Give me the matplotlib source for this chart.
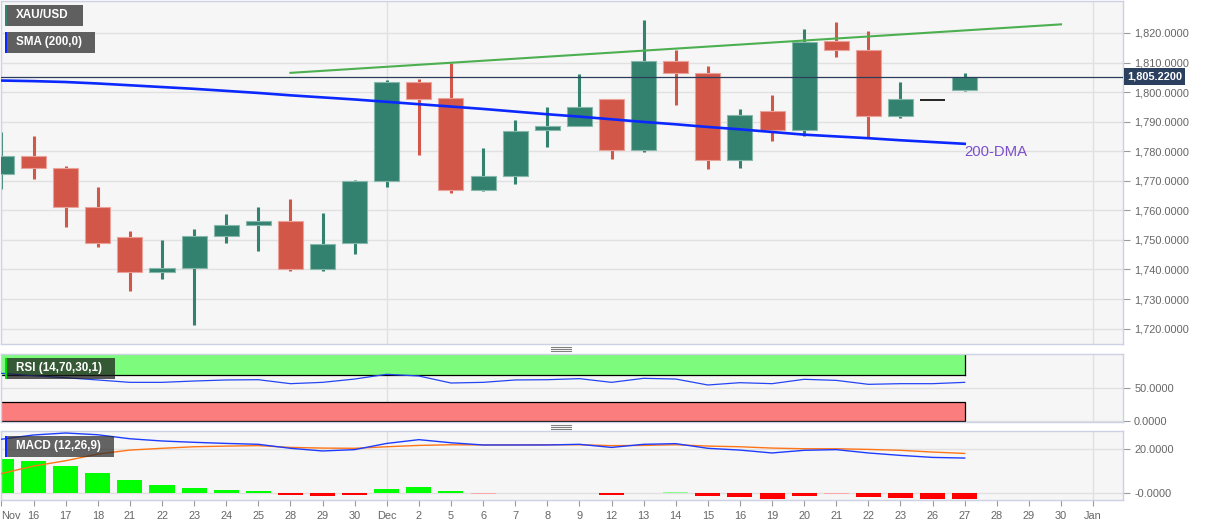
import matplotlib
matplotlib.use("Agg")
import matplotlib.pyplot as plt
from matplotlib.patches import Rectangle
from matplotlib.lines import Line2D
from matplotlib.transforms import blended_transform_factory

plt.rcParams["font.family"] = ["Liberation Sans", "DejaVu Sans"]

# ─── data ────────────────────────────────────────────────────────────────────
dates = ["Nov", "16", "17", "18", "21", "22", "23", "24", "25", "28", "29", "30",
         "Dec", "2", "5", "6", "7", "8", "9", "12", "13", "14", "15", "16", "19",
         "20", "21", "22", "23", "26", "27", "28", "29", "30", "Jan"]

opens = [1772.3, 1778.5, 1774.2, 1761.1, 1751.0, 1739.2, 1740.4, 1751.3, 1755.2, 1756.3,
         1740.1, 1748.9, 1770.0, 1803.3, 1797.9, 1766.9, 1771.7, 1787.1, 1788.6, 1797.5,
         1780.4, 1810.4, 1806.6, 1777.1, 1793.5, 1787.2, 1817.4, 1814.3, 1792.0, 1797.3,
         1800.7]
highs = [1786.5, 1785.2, 1775.0, 1767.8, 1752.9, 1749.9, 1753.6, 1758.7, 1761.1, 1763.8,
         1759.0, 1770.3, 1804.0, 1804.3, 1809.8, 1781.0, 1790.6, 1794.9, 1806.1, 1797.7,
         1824.3, 1814.3, 1808.8, 1794.3, 1798.9, 1821.2, 1823.6, 1820.7, 1803.3, 1797.3,
         1806.5]
lows = [1767.2, 1770.5, 1754.5, 1747.5, 1732.6, 1736.9, 1721.2, 1749.1, 1746.2, 1739.6,
        1739.6, 1745.2, 1767.8, 1778.6, 1765.8, 1766.5, 1768.8, 1781.3, 1788.4, 1777.5,
        1779.9, 1795.5, 1773.9, 1774.2, 1783.6, 1785.0, 1811.8, 1784.9, 1791.2, 1797.3,
        1800.2]
closes = [1778.5, 1774.4, 1761.2, 1748.9, 1739.3, 1740.4, 1751.2, 1755.1, 1756.3, 1740.1,
          1748.7, 1770.0, 1803.3, 1797.6, 1766.9, 1771.6, 1787.0, 1788.6, 1795.0, 1780.4,
          1810.4, 1806.6, 1777.0, 1792.2, 1787.2, 1817.1, 1814.3, 1792.0, 1797.7, 1797.3,
          1805.22]

sma200 = [1803.9, 1803.7, 1803.4, 1802.9, 1802.3, 1801.7, 1801.1, 1800.4, 1799.7, 1798.9,
          1798.2, 1797.5, 1796.7, 1795.9, 1795.1, 1794.3, 1793.4, 1792.5, 1791.7, 1790.8,
          1789.9, 1789.1, 1788.2, 1787.4, 1786.5, 1785.6, 1785.0, 1784.4, 1783.7, 1783.1,
          1782.5]

trend_x = [9, 33]
trend_y = [1806.5, 1822.9]
last_price = 1805.22

rsi = [72.7, 69.0, 66.0, 62.6, 59.0, 59.0, 61.0, 62.6, 63.0, 57.0, 59.0, 64.0, 71.2, 68.6,
       58.0, 59.0, 62.6, 63.0, 64.6, 59.0, 65.1, 64.0, 55.0, 58.5, 57.0, 63.6, 62.0, 56.0,
       57.0, 57.0, 59.0]

macd = [24.4, 26.3, 27.2, 26.4, 24.6, 23.6, 23.0, 22.5, 22.1, 20.3, 19.1, 19.7, 22.5, 24.2,
        22.8, 21.8, 21.8, 21.8, 22.1, 20.7, 22.1, 22.4, 20.3, 19.5, 18.2, 19.4, 19.7, 18.2,
        17.1, 16.2, 15.9]
signal = [8.9, 12.3, 14.7, 17.7, 19.5, 20.3, 21.0, 21.3, 21.5, 20.7, 20.4, 20.3, 21.0, 21.6,
          21.9, 21.8, 21.8, 21.9, 21.9, 21.5, 21.6, 21.9, 21.3, 21.0, 20.4, 20.1, 20.1, 19.8,
          19.4, 18.6, 18.0]
hist = [15.5, 14.4, 12.2, 9.2, 6.0, 3.6, 2.5, 1.6, 1.0, -0.8, -1.4, -0.6, 1.8, 2.8, 1.0,
        -0.15, 0.15, 0.15, 0.3, -0.6, 0.35, 0.45, -1.4, -1.8, -2.4, -1.1, -0.45, -1.6, -2.1,
        -2.4, -2.4]

price_ticks = [1720, 1730, 1740, 1750, 1760, 1770, 1780, 1790, 1800, 1810, 1820]
rsi_ticks = [0, 50]
rsi_ticklabels = ["0.0000", "50.0000"]
macd_ticks = [0, 20]
macd_ticklabels = ["-0.0000", "20.0000"]

# ─── style ───────────────────────────────────────────────────────────────────
UP = "#338270"
DOWN = "#d35748"
UP_EDGE = "#86b8ab"
DOWN_EDGE = "#e9a39a"
BG = "#f6f6f6"
SPINE = "#ccd1e3"
GRID = "#e1e1e1"
TICK = "#666666"

W, H = 1207, 526


def fx(x):
    return x / W


def fy(y):
    return 1 - y / H


fig = plt.figure(figsize=(W / 100, H / 100), dpi=100, facecolor="white")

left, right = 0.5, 1123
ax_main = fig.add_axes([fx(left), fy(344), (right - left) / W, (344 - 1) / H])
ax_rsi = fig.add_axes([fx(left), fy(422), (right - left) / W, (422 - 354) / H])
ax_macd = fig.add_axes([fx(left), fy(500), (right - left) / W, (500 - 431) / H])

xs = list(range(len(dates)))
n = len(closes)
idx = list(range(n))

for ax in (ax_main, ax_rsi, ax_macd):
    ax.set_facecolor(BG)
    ax.set_xlim(-0.03, 34.93)
    for sp in ax.spines.values():
        sp.set_color(SPINE)
        sp.set_linewidth(1.0)
    ax.yaxis.tick_right()
    ax.tick_params(axis="y", length=5, width=0.8, color="#9a9a9a",
                   labelcolor=TICK, labelsize=7.9, pad=3)
    ax.set_xticks(xs)
    ax.tick_params(axis="x", length=0, labelbottom=False)
    ax.grid(axis="y", color=GRID, linewidth=1.0, zorder=0)
    ax.set_axisbelow(True)
    for v in (12, 34):
        ax.axvline(v, color=GRID, linewidth=1.0, zorder=0.5)

# ─── main price panel ───────────────────────────────────────────────────────
ax_main.set_ylim(1714.8, 1830.8)
ax_main.set_yticks(price_ticks)
ax_main.set_yticklabels([f"{v:,.4f}" for v in price_ticks])

body_w = 0.78
for i in idx:
    o, h, l, c = opens[i], highs[i], lows[i], closes[i]
    if h == l:
        ax_main.hlines(c, i - body_w / 2, i + body_w / 2, color="black",
                       linewidth=1.2, zorder=3)
        continue
    col = UP if c >= o else DOWN
    edge = UP_EDGE if c >= o else DOWN_EDGE
    ax_main.vlines(i, l, h, color=col, linewidth=2.2, zorder=2)
    ax_main.bar(i, abs(c - o), bottom=min(o, c), width=body_w, color=col,
                edgecolor=edge, linewidth=0.8, zorder=3)

ax_main.plot(idx, sma200, color="#0a28ff", linewidth=1.9, zorder=4)
ax_main.plot(trend_x, trend_y, color="#4caf50", linewidth=1.5, zorder=4)
ax_main.axhline(last_price, color="#2c3d5c", linewidth=0.9, zorder=5)
ax_main.text(30, 1779.8, "200-DMA", color="#7b4fcc", fontsize=10.7,
             ha="left", va="center", zorder=6)

trans = blended_transform_factory(ax_main.transAxes, ax_main.transData)
ax_main.text(1.0035, last_price, f"{last_price:,.4f}", transform=trans,
             color="white", fontsize=7.9, fontweight="bold", ha="left", va="center",
             bbox=dict(boxstyle="square,pad=0.3", fc="#2b3f5f", ec="none"),
             zorder=7, clip_on=False)

# ─── RSI panel ──────────────────────────────────────────────────────────────
ax_rsi.set_ylim(-1.0, 101.9)
ax_rsi.set_yticks(rsi_ticks)
ax_rsi.set_yticklabels(rsi_ticklabels)
ax_rsi.add_patch(Rectangle((-1, 70), 31, 30, facecolor="#7cfb7c",
                           edgecolor="none", zorder=1))
ax_rsi.plot([-1, 30], [70, 70], color="black", linewidth=0.9, zorder=2)
ax_rsi.plot([30, 30], [70, 100], color="black", linewidth=0.9, zorder=2)
ax_rsi.add_patch(Rectangle((-1, 0), 31, 30, facecolor="#fb7d7d",
                           edgecolor="black", linewidth=0.9, zorder=1))
ax_rsi.plot(idx, rsi, color="#2545f5", linewidth=0.9, zorder=3)

# ─── MACD panel ─────────────────────────────────────────────────────────────
ax_macd.set_ylim(-3.0, 28.1)
ax_macd.set_yticks(macd_ticks)
ax_macd.set_yticklabels(macd_ticklabels)
hist_colors = []
for v in hist:
    if abs(v) < 0.5:
        hist_colors.append("#8cff8c" if v >= 0 else "#ffaaaa")
    else:
        hist_colors.append("#00ff00" if v >= 0 else "#ff0000")
ax_macd.bar(idx, hist, width=body_w, color=hist_colors, linewidth=0, zorder=2)
ax_macd.plot(idx, signal, color="#ff7518", linewidth=1.0, zorder=3)
ax_macd.plot(idx, macd, color="#1e3cff", linewidth=1.0, zorder=4)

ax_macd.tick_params(axis="x", length=4, width=0.8, color="#9a9a9a",
                    labelbottom=True, labelcolor=TICK, labelsize=7.9, pad=4)
ax_macd.set_xticklabels(dates)
ax_macd.get_xticklabels()[0].set_horizontalalignment("left")


# ─── legend boxes and pane handles (figure pixel coords) ───────────────────
def label_box(x0, y0, x1, y1, text, bar_color, face, alpha=1.0, bar_w=2):
    fig.add_artist(Rectangle((fx(x0), fy(y1)), (x1 - x0) / W, (y1 - y0) / H,
                             transform=fig.transFigure, facecolor=face,
                             edgecolor="none", alpha=alpha, zorder=10))
    fig.add_artist(Rectangle((fx(x0), fy(y1)), bar_w / W, (y1 - y0) / H,
                             transform=fig.transFigure, facecolor=bar_color,
                             edgecolor="none", zorder=11))
    fig.text(fx(x0 + 11), fy((y0 + y1) / 2), text, color="white",
             fontsize=8.4, fontweight="bold", ha="left", va="center", zorder=12)


label_box(5, 5, 83, 26, "XAU/USD", UP, "#5f5f5f", bar_w=1.5)
label_box(5, 32, 95, 53, "SMA (200,0)", "#0a28ff", "#5f5f5f")
label_box(5, 358, 115, 379, "RSI (14,70,30,1)", "#00e000", "#1a1a1a", alpha=0.72)
label_box(5, 436, 114, 457, "MACD (12,26,9)", "#0a28ff", "#2a2a2a", alpha=0.72)

for y_top in (347.3, 425.3):
    for k in range(3):
        yy = fy(y_top + 2 * k)
        fig.add_artist(Line2D([fx(551), fx(571)], [yy, yy], color="#808080",
                              linewidth=0.8, transform=fig.transFigure, zorder=10))

fig.savefig("out.png", dpi=100, facecolor="white")
